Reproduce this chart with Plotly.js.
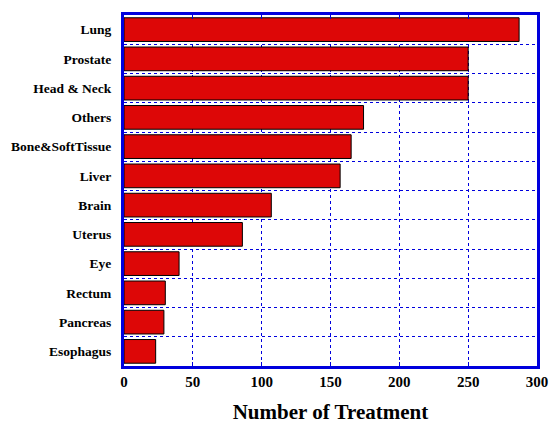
<!DOCTYPE html>
<html>
<head>
<meta charset="utf-8">
<script src="https://cdn.plot.ly/plotly-3.0.1.min.js"></script>
<style>html,body{margin:0;padding:0;background:#fff;}#chart{width:550px;height:424px;}</style>
</head>
<body>
<div id="chart"></div>
<script>
const categories = ["Lung","Prostate","Head & Neck","Others","Bone&SoftTissue","Liver","Brain","Uterus","Eye","Rectum","Pancreas","Esophagus"];
const treatments = [287, 250, 250, 174, 165, 157, 107, 86, 40, 30, 29, 23];
const xTicks = [0, 50, 100, 150, 200, 250, 300];

const serif = "Liberation Serif";
const font = {family: serif, size: 13, color: "#000", weight: "bold"};

const trace = {
  type: "bar",
  orientation: "h",
  y: categories,
  x: treatments,
  marker: {color: "#DD0707", line: {color: "#000", width: 1}},
  hoverinfo: "none"
};

const layout = {
  width: 550, height: 424,
  margin: {l: 124, r: 13, t: 15, b: 58},
  paper_bgcolor: "#fff", plot_bgcolor: "#fff",
  showlegend: false,
  bargap: 0.19,
  font: font,
  xaxis: {
    range: [0, 300],
    tickvals: xTicks,
    ticktext: xTicks.map(v => String(v)),
    showline: true, linecolor: "#0000DD", linewidth: 3, mirror: "ticks",
    ticks: "inside", ticklen: 4, tickcolor: "#0000DD", tickwidth: 1,
    showgrid: true, gridcolor: "#0000DD", gridwidth: 1, griddash: "dot",
    zeroline: false,
    tickfont: {family: serif, size: 15, color: "#000", weight: "bold"},
    title: {text: "Number of Treatment", font: {family: serif, size: 21, color: "#000", weight: "bold"}, standoff: 18}
  },
  yaxis: {
    type: "category",
    categoryorder: "array", categoryarray: categories,
    autorange: "reversed",
    tickson: "boundaries",
    showline: true, linecolor: "#0000DD", linewidth: 3, mirror: true,
    ticks: "", ticklen: 0,
    showgrid: true, gridcolor: "#0000DD", gridwidth: 1, griddash: "dot",
    zeroline: false,
    ticklabelstandoff: 7,
    tickfont: {family: serif, size: 13.5, color: "#000", weight: "bold"}
  }
};

Plotly.newPlot("chart", [trace], layout, {displayModeBar: false, staticPlot: true});
</script>
</body>
</html>
